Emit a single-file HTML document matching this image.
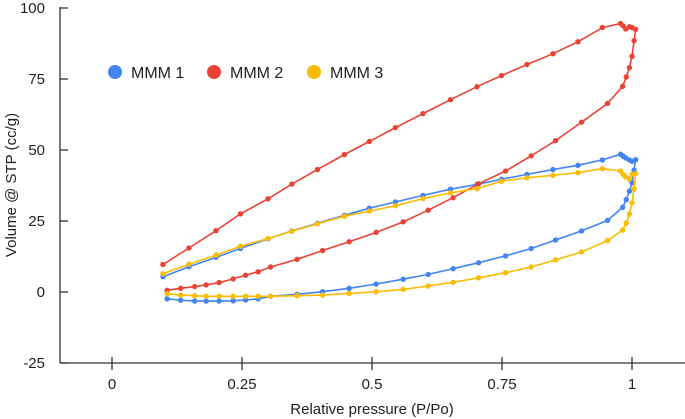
<!DOCTYPE html>
<html><head><meta charset="utf-8"><style>
html,body{margin:0;padding:0;background:#fff;}
svg{display:block;font-family:"Liberation Sans",Arial,sans-serif;}
</style></head><body>
<svg id="chart" width="685" height="419" viewBox="0 0 685 419">
<g id="axes"></g>
<g id="series"></g>
<g id="legend"></g>
<text x="372" y="414" text-anchor="middle" font-size="15" fill="#222">Relative pressure (P/Po)</text>
<text transform="translate(16,185) rotate(-90)" text-anchor="middle" font-size="15" fill="#222">Volume @ STP (cc/g)</text>
</svg>
<script>
const pressure = [0.106,0.132,0.159,0.181,0.206,0.233,0.257,0.281,0.305,0.356,0.405,0.456,0.508,0.560,0.608,0.656,0.705,0.757,0.806,0.853,0.903,0.953,0.982,0.989,0.995,1.0,1.004,1.007,
 1.0,0.995,0.988,0.983,0.978,0.943,0.896,0.848,0.798,0.749,0.702,0.651,0.598,0.545,0.495,0.447,0.395,0.346,0.300,0.247,0.200,0.148,0.098];
const mmm1 = [-2.4,-2.9,-3.2,-3.2,-3.2,-3.1,-2.8,-2.4,-1.5,-0.8,0.1,1.3,2.8,4.5,6.2,8.2,10.3,12.7,15.3,18.3,21.5,25.2,29.8,32.5,35.5,38.5,42.9,46.6,
 46,46.5,47.2,47.8,48.5,46.5,44.6,43.1,41.4,39.7,37.9,36.2,34,31.7,29.5,27,24.2,21.5,18.7,15.3,12.2,8.9,5.4];
const mmm2 = [0.6,1.3,1.9,2.5,3.3,4.6,5.9,7.1,8.8,11.5,14.6,17.7,21,24.7,28.8,33.2,38.1,42.6,47.9,53.3,59.8,66.4,72.4,75.7,79,83,88.5,92.5,
 93.1,93.4,92.6,93.7,94.5,93.1,88.1,83.9,80.1,76.2,72.3,67.7,62.8,57.9,53,48.4,43.1,38,32.8,27.5,21.6,15.5,9.7];
const mmm3 = [-0.6,-1.1,-1.3,-1.5,-1.5,-1.5,-1.5,-1.5,-1.5,-1.3,-1.1,-0.5,0.1,0.9,2.1,3.4,5,6.8,8.8,11.3,14.1,18.1,21.8,24.3,27.4,31.4,36.3,41.7,
 41.4,39.7,40.5,41.4,42.6,43.4,42,41.1,40.2,39,36.4,34.9,32.9,30.4,28.5,26.7,24,21.4,18.8,16.1,13,9.8,6.4];
const seriesNames = ["MMM 1","MMM 2","MMM 3"];
const seriesColors = ["#4285f4","#ea4335","#fbbc04"];
const xTicks = [0,0.25,0.5,0.75,1];
const xTickLabels = ["0","0.25","0.5","0.75","1"];
const yTicks = [-25,0,25,50,75,100];
const yTickLabels = ["-25","0","25","50","75","100"];

const NS="http://www.w3.org/2000/svg";
function xs(p){return 112+520*p;}
function ys(v){return 292-2.84*v;}
function mk(tag,attrs,parent){const e=document.createElementNS(NS,tag);for(const k in attrs)e.setAttribute(k,attrs[k]);parent.appendChild(e);return e;}

const axes=document.getElementById('axes');
let l=mk('line',{x1:60,y1:7,x2:60,y2:363,stroke:'#333','stroke-width':1.3},axes);


l=mk('line',{x1:60,y1:363,x2:685,y2:363,stroke:'#333','stroke-width':1.3},axes);


yTicks.forEach((t,i)=>{
  const tk=mk('line',{x1:60,y1:ys(t),x2:68,y2:ys(t),stroke:'#333','stroke-width':1.3},axes);
  
  
  const tx=mk('text',{x:45,y:ys(t)+5,'text-anchor':'end','font-size':15,fill:'#222'},axes);
  tx.textContent=yTickLabels[i];
  
  
});
xTicks.forEach((t,i)=>{
  const tk=mk('line',{x1:xs(t),y1:357,x2:xs(t),y2:370,stroke:'#333','stroke-width':1.3},axes);
  
  
  const tx=mk('text',{x:xs(t),y:389,'text-anchor':'middle','font-size':15,fill:'#222'},axes);
  tx.textContent=xTickLabels[i];
  
  
});

const sg=document.getElementById('series');
[mmm1,mmm2,mmm3].forEach((vals,si)=>{
  const g=mk('g',{},sg);
  
  
  const pts=vals.map((v,i)=>xs(pressure[i]).toFixed(1)+','+ys(v).toFixed(1)).join(' ');
  const pl=mk('polyline',{points:pts,fill:'none',stroke:seriesColors[si],'stroke-width':1.6},g);
  
  
  vals.forEach((v,i)=>{
    const c=mk('circle',{cx:xs(pressure[i]),cy:ys(v),r:2.7,fill:seriesColors[si]},g);
    
    
  });
});

const lg=document.getElementById('legend');
const legX=[115,214,314];
seriesNames.forEach((n,i)=>{
  const g=mk('g',{},lg);
  
  
  mk('circle',{cx:legX[i],cy:72,r:7,fill:seriesColors[i]},g);
  const t=mk('text',{x:legX[i]+16,y:78,'font-size':16,fill:'#222'},g);
  t.textContent=n;
});
</script>
</body></html>
